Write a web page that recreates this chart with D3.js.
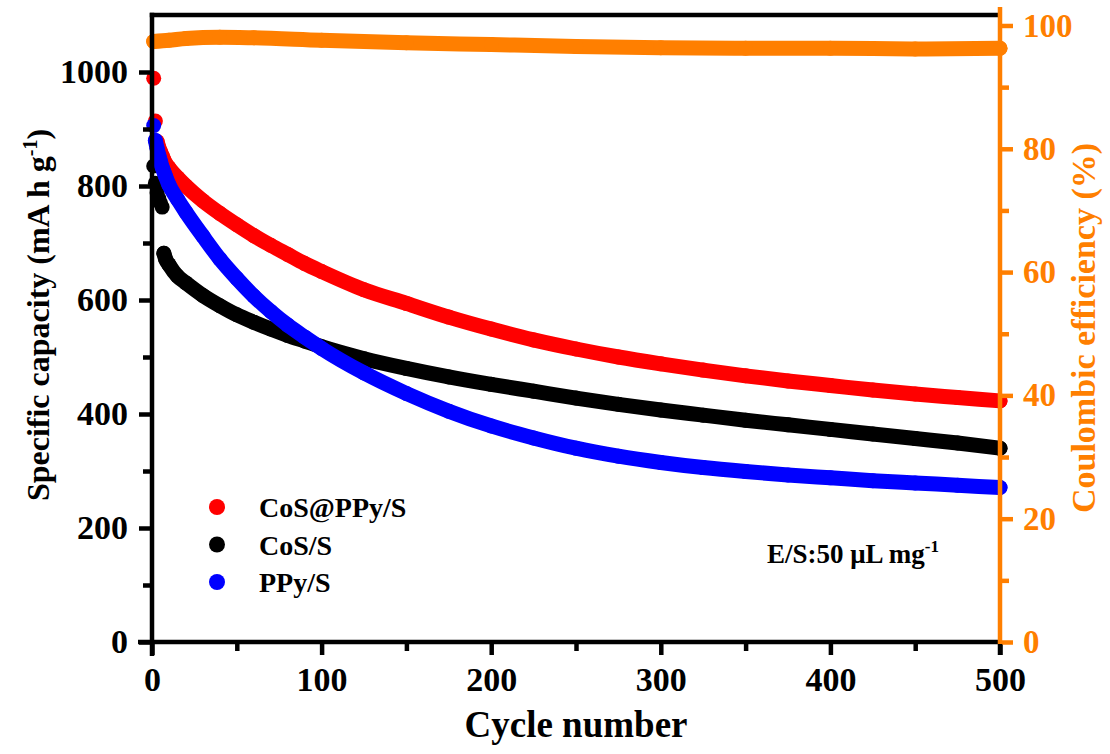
<!DOCTYPE html>
<html>
<head>
<meta charset="utf-8">
<script src="https://cdn.jsdelivr.net/npm/d3@7"></script>
<style>
  body { margin: 0; background: #fff; }
  svg text { font-family: "Liberation Serif", "Times New Roman", serif; font-weight: bold; }
</style>
</head>
<body>
<div id="chart"></div>
<script>
// ========== Data ==========
const cycles = [1, 2, 3, 4, 5, 6, 7, 8, 10, 15, 20, 30, 40, 50, 60, 70, 80, 90, 100,
  125, 150, 175, 200, 225, 250, 275, 300, 325, 350, 375, 400, 425, 450, 475, 500];

const cosPpyS = [989, 914, 878, 868, 860, 853, 846, 840, 832, 815, 800, 774, 752, 732, 713, 696, 680, 664, 650,
  618, 594, 570, 549, 530, 514, 500, 488, 477, 467, 458, 450, 442, 435, 429, 423];
const cosS = [835, 805, 788, 778, 770, 763, 682, 672, 662, 642, 630, 608, 590, 574, 561, 549, 538, 528, 518,
  497, 480, 465, 452, 440, 428, 417, 407, 398, 389, 381, 373, 365, 357, 349, 340];
const ppyS = [906, 880, 866, 854, 843, 833, 825, 817, 802, 777, 754, 712, 672, 638, 607, 580, 556, 535, 515,
  472, 436, 405, 379, 358, 340, 326, 315, 306, 299, 293, 288, 283, 279, 275, 271];

const ceCycles = [1, 10, 20, 40, 60, 100, 150, 200, 250, 300, 350, 400, 450, 500];
const ceValues = [97.4, 97.6, 97.9, 98.1, 98.0, 97.6, 97.2, 96.9, 96.6, 96.4, 96.3, 96.3, 96.2, 96.3];

const seriesNames = ["CoS@PPy/S", "CoS/S", "PPy/S"];
const seriesColors = ["#ff0000", "#000000", "#0000ff"];
const ceColor = "#ff7f00";
// first cycle index from which the markers run together into a band
const bandStart = [2, 6, 1];

const xTicks = [0, 100, 200, 300, 400, 500];
const yTicks = [0, 200, 400, 600, 800, 1000];
const y2Ticks = [0, 20, 40, 60, 80, 100];

// ========== Layout ==========
const width = 1110;
const height = 754;
const margin = { top: 15, right: 110, bottom: 112, left: 152 };

const svg = d3.select("#chart").append("svg")
  .attr("width", width)
  .attr("height", height);

const x = d3.scaleLinear().domain([0, 500]).range([margin.left, width - margin.right]);
const y = d3.scaleLinear().domain([0, 1100]).range([height - margin.bottom, margin.top]);
const y2 = d3.scaleLinear().domain([0, 101.7]).range([height - margin.bottom, margin.top]);

const R = 7.5;

// ========== Series ==========
function drawBand(xs, ys, yScale, color, start) {
  const pts = xs.map((c, i) => ({ c, v: ys[i] }));
  const line = d3.line().x(d => x(d.c)).y(d => yScale(d.v)).curve(d3.curveMonotoneX);
  svg.append("path")
    .datum(pts.slice(start))
    .attr("fill", "none")
    .attr("stroke", color)
    .attr("stroke-width", R * 2)
    .attr("stroke-linecap", "round")
    .attr("stroke-linejoin", "round")
    .attr("d", line);
  svg.append("g").selectAll("circle")
    .data(pts)
    .join("circle")
    .attr("cx", d => x(d.c))
    .attr("cy", d => yScale(d.v))
    .attr("r", R)
    .attr("fill", color);
}

drawBand(ceCycles, ceValues, y2, ceColor, 0);
[cosPpyS, cosS, ppyS].forEach((vals, i) => drawBand(cycles, vals, y, seriesColors[i], bandStart[i]));

// ========== Axes ==========
const axisW = 4.5;
const plotBottom = height - margin.bottom;

// frame top
svg.append("line")
  .attr("x1", x(0) - axisW / 2).attr("x2", x(500))
  .attr("y1", margin.top).attr("y2", margin.top)
  .attr("stroke", "#000").attr("stroke-width", axisW);

function styleAxis(g, color, size) {
  g.select(".domain").remove();
  g.selectAll("line").attr("stroke", color).attr("stroke-width", axisW);
  g.selectAll("text").attr("fill", color).style("font-size", size + "px");
}

// bottom
const gx = svg.append("g")
  .attr("transform", `translate(0,${plotBottom})`)
  .call(d3.axisBottom(x).tickValues(d3.range(0, 501, 50)).tickSize(13).tickPadding(12)
    .tickFormat(d => xTicks.includes(d) ? d : ""));
styleAxis(gx, "#000", 34);
gx.selectAll(".tick line").filter(d => !xTicks.includes(d)).attr("y2", 9);
svg.append("line")
  .attr("x1", x(0) - 14).attr("x2", x(500))
  .attr("y1", plotBottom).attr("y2", plotBottom)
  .attr("stroke", "#000").attr("stroke-width", axisW);

// left
const gy = svg.append("g")
  .attr("transform", `translate(${x(0)},0)`)
  .call(d3.axisLeft(y).tickValues(d3.range(0, 1001, 100)).tickSize(13).tickPadding(11)
    .tickFormat(d => yTicks.includes(d) ? d : ""));
styleAxis(gy, "#000", 34);
gy.selectAll(".tick line").filter(d => !yTicks.includes(d)).attr("x2", -9);
svg.append("line")
  .attr("x1", x(0)).attr("x2", x(0))
  .attr("y1", margin.top - axisW / 2).attr("y2", plotBottom + 14)
  .attr("stroke", "#000").attr("stroke-width", axisW);

// right
const gy2 = svg.append("g")
  .attr("transform", `translate(${x(500)},0)`)
  .call(d3.axisRight(y2).tickValues(d3.range(0, 101, 10)).tickSize(13).tickPadding(10)
    .tickFormat(d => y2Ticks.includes(d) ? d : ""));
styleAxis(gy2, ceColor, 33);
gy2.selectAll(".tick line").filter(d => !y2Ticks.includes(d)).attr("x2", 9);
svg.append("line")
  .attr("x1", x(500)).attr("x2", x(500))
  .attr("y1", margin.top - 8).attr("y2", plotBottom + axisW / 2)
  .attr("stroke", ceColor).attr("stroke-width", axisW);
// black stub of the bottom axis tick at 500
svg.append("line")
  .attr("x1", x(500)).attr("x2", x(500))
  .attr("y1", plotBottom + 2).attr("y2", plotBottom + 13)
  .attr("stroke", "#000").attr("stroke-width", axisW);

// ========== Axis titles ==========
svg.append("text")
  .attr("x", (x(0) + x(500)) / 2)
  .attr("y", 737)
  .attr("text-anchor", "middle")
  .style("font-size", "37px")
  .text("Cycle number");

const yTitle = svg.append("text")
  .attr("transform", "translate(49,315) rotate(-90)")
  .attr("text-anchor", "middle")
  .style("font-size", "32px");
yTitle.append("tspan").text("Specific capacity (mA h g");
yTitle.append("tspan").attr("dy", -12).style("font-size", "20px").text("-1");
yTitle.append("tspan").attr("dy", 12).text(")");

svg.append("text")
  .attr("transform", "translate(1095,328) rotate(-90)")
  .attr("text-anchor", "middle")
  .attr("fill", ceColor)
  .style("font-size", "34px")
  .text("Coulombic efficiency (%)");

// ========== Legend ==========
const legend = svg.append("g");
seriesNames.forEach((name, i) => {
  const ly = 507 + i * 37.5;
  legend.append("circle")
    .attr("cx", 217).attr("cy", ly).attr("r", 8)
    .attr("fill", seriesColors[i]);
  legend.append("text")
    .attr("x", 259).attr("y", ly + 10)
    .style("font-size", "28px")
    .text(name);
});

// ========== Annotation ==========
const note = svg.append("text")
  .attr("x", 767).attr("y", 563)
  .style("font-size", "27px");
note.append("tspan").text("E/S:50 μL mg");
note.append("tspan").attr("dy", -11).style("font-size", "17px").text("-1");
</script>
</body>
</html>
